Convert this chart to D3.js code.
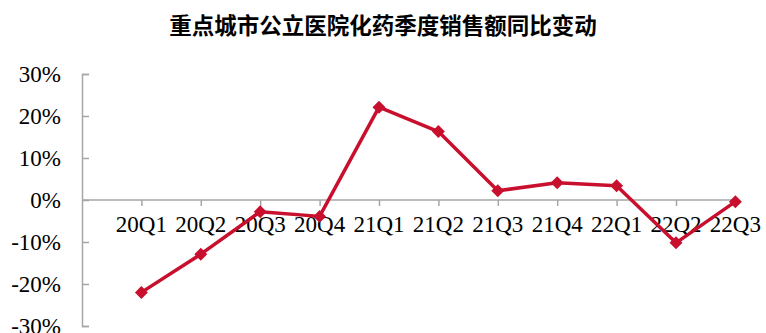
<!DOCTYPE html>
<html>
<head>
<meta charset="utf-8">
<script src="https://cdn.jsdelivr.net/npm/d3@7"></script>
<style>
  html, body { margin: 0; padding: 0; background: #fff; }
  svg { display: block; }
</style>
</head>
<body>
<svg id="chart" width="766" height="333"></svg>
<script>
// Quarterly year-on-year change (%) in chemical drug sales, key-city public hospitals
const quarters = ["20Q1", "20Q2", "20Q3", "20Q4", "21Q1", "21Q2", "21Q3", "21Q4", "22Q1", "22Q2", "22Q3"];
const yoyChange = [-22.0, -12.9, -2.8, -3.9, 22.1, 16.3, 2.2, 4.1, 3.4, -10.2, -0.4];
const yTicks = [-30, -20, -10, 0, 10, 20, 30];
const titleText = "重点城市公立医院化药季度销售额同比变动";

const svg = d3.select("#chart");
const W = 766, H = 333;
const axisLeftX = 82;
const lineColor = "#C8102E";
const axisColor = "#A6A6A6";
const serif = "'Liberation Serif', 'Times New Roman', serif";

svg.append("rect").attr("width", W).attr("height", H).attr("fill", "#fff");

// Title
svg.append("text")
  .attr("x", W / 2)
  .attr("y", 34)
  .attr("text-anchor", "middle")
  .attr("font-family", "'Noto Sans CJK SC', sans-serif")
  .attr("font-weight", "bold")
  .attr("font-size", "22.5px")
  .attr("fill", "#000")
  .text(titleText);

// Scales
const y = d3.scaleLinear().domain([-30, 30]).range([326, 74]);
const step = 59.4;
const x = d3.scalePoint().domain(quarters)
  .range([axisLeftX + step, axisLeftX + step * quarters.length]);

// Y axis: ticks point inward
const yAxis = d3.axisRight(y)
  .tickValues(yTicks)
  .tickSize(7)
  .tickFormat(() => "");
const gy = svg.append("g")
  .attr("transform", `translate(${axisLeftX},0)`)
  .call(yAxis);
gy.select(".domain").attr("stroke", axisColor).attr("stroke-width", 1.5);
gy.selectAll(".tick line").attr("stroke", axisColor).attr("stroke-width", 1.5);

// Y tick labels
svg.append("g").selectAll("text")
  .data(yTicks)
  .join("text")
  .attr("x", 61)
  .attr("y", d => y(d) + 8)
  .attr("text-anchor", "end")
  .attr("font-family", serif)
  .attr("font-size", "23px")
  .attr("fill", "#000")
  .text(d => d + "%");

// X axis along zero line
const xAxis = d3.axisBottom(x).tickSize(6).tickFormat(() => "");
const gx = svg.append("g")
  .attr("transform", `translate(0,${y(0)})`)
  .call(xAxis);
gx.select(".domain").remove();
gx.selectAll(".tick line").attr("stroke", axisColor).attr("stroke-width", 1.5);
gx.append("line")
  .attr("x1", axisLeftX).attr("x2", x(quarters[quarters.length - 1]))
  .attr("y1", 0).attr("y2", 0)
  .attr("stroke", axisColor).attr("stroke-width", 1.5);

// X tick labels
svg.append("g").selectAll("text")
  .data(quarters)
  .join("text")
  .attr("x", d => x(d))
  .attr("y", y(0) + 32)
  .attr("text-anchor", "middle")
  .attr("font-family", serif)
  .attr("font-size", "23px")
  .attr("fill", "#000")
  .text(d => d);

// Series line
const pts = quarters.map((q, i) => ({ q, v: yoyChange[i] }));
svg.append("path")
  .datum(pts)
  .attr("fill", "none")
  .attr("stroke", lineColor)
  .attr("stroke-width", 3.5)
  .attr("stroke-linejoin", "round")
  .attr("d", d3.line().x(d => x(d.q)).y(d => y(d.v)));

// Diamond markers
const diamond = d3.symbol().type(d3.symbolSquare).size(84);
svg.append("g").selectAll("path")
  .data(pts)
  .join("path")
  .attr("d", diamond)
  .attr("transform", d => `translate(${x(d.q)},${y(d.v)}) rotate(45)`)
  .attr("fill", lineColor);
</script>
</body>
</html>
